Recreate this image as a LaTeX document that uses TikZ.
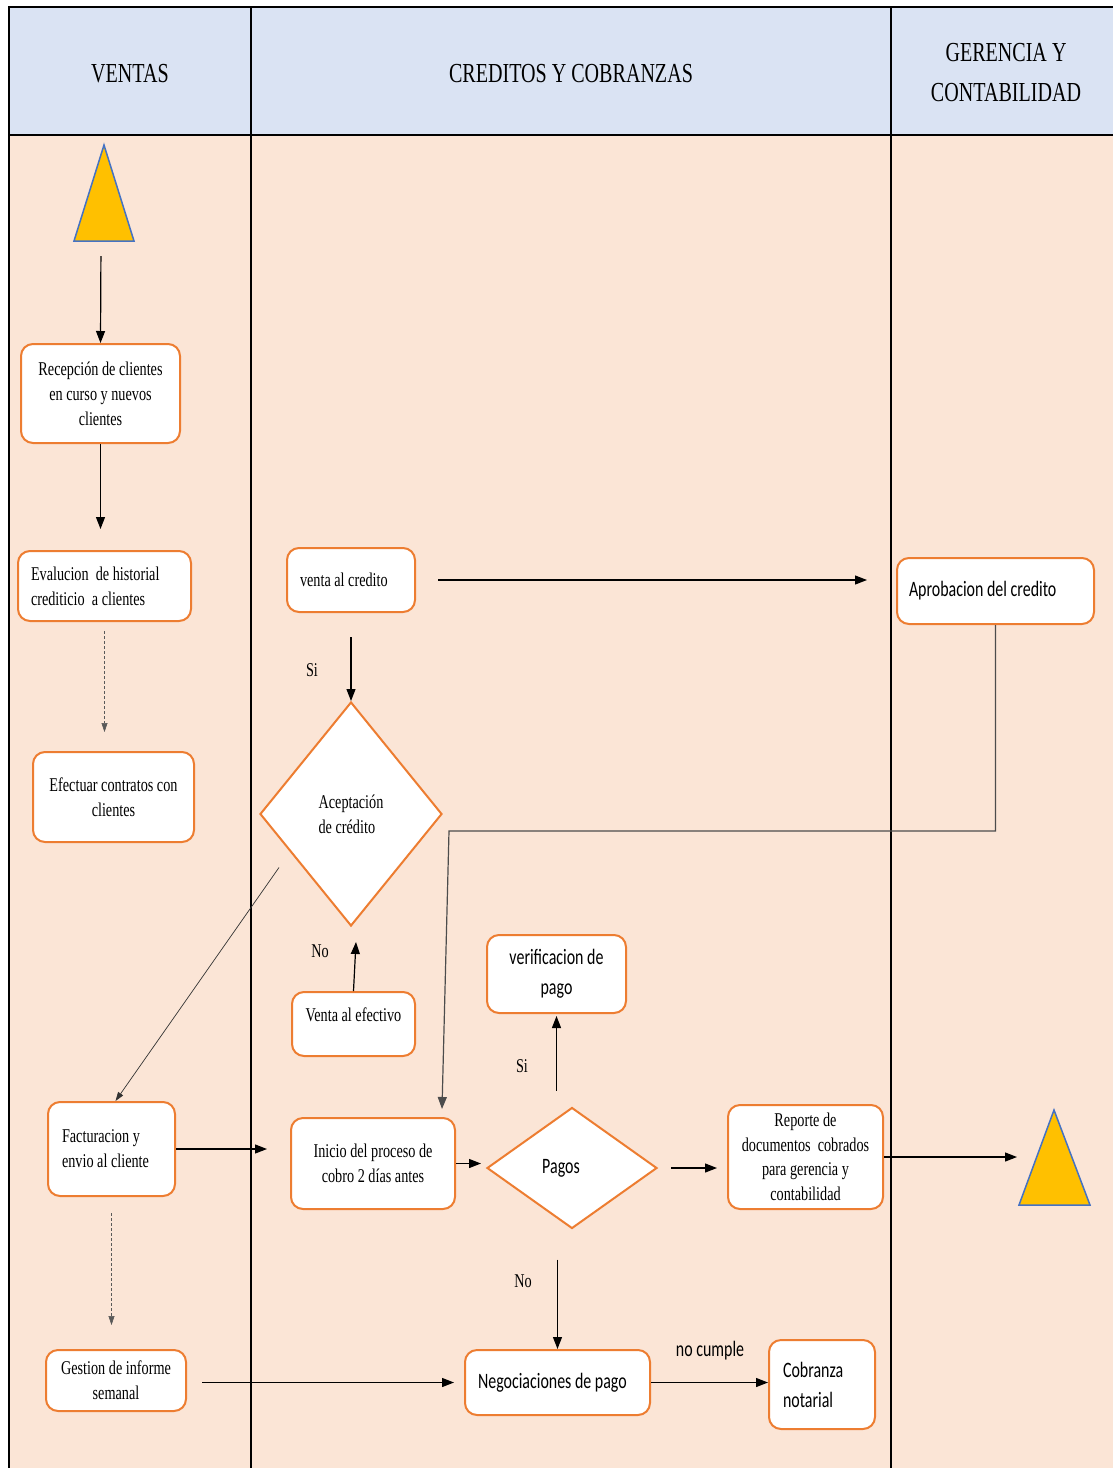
\documentclass[tikz,border=0pt]{standalone}
\usepackage{fontspec}
\newfontfamily\tnr[FakeStretch=0.73]{Liberation Serif}
\newfontfamily\cbr[FakeStretch=0.725]{Carlito}
\definecolor{headblue}{HTML}{DAE3F3}
\definecolor{lanepeach}{HTML}{FBE5D6}
\definecolor{boxorange}{HTML}{ED7D31}
\definecolor{triyellow}{HTML}{FFC000}
\definecolor{triblue}{HTML}{4472C4}
\tikzset{arr/.style = {-{Triangle[length=12pt,width=9pt]}, line width=1.2pt}}
\tikzset{dotarr/.style = {-{Triangle[length=9pt,width=6pt]}, densely dashed, line width=0.6pt, black!65}}
\tikzset{thinarr/.style = {-{Triangle[length=9pt,width=6pt]}, line width=0.7pt, black!80}}
\tikzset{box/.style = {draw=boxorange, line width=2pt, fill=white, rounded corners=12pt, inner sep=0, align=center, font=\tnr\fontsize{19.5}{25}\selectfont}}
\tikzset{lbox/.style = {box, align=flush left, inner xsep=13pt}}
\tikzset{dec/.style = {box, diamond, sharp corners}}
\tikzset{lbl/.style = {font=\tnr\fontsize{19.5}{25}\selectfont}}
\tikzset{head/.style = {align=center, font=\tnr\fontsize{27.5}{40}\selectfont}}
\tikzset{tri/.style = {fill=triyellow, draw=triblue, line width=1.5pt}}
\usetikzlibrary{arrows.meta,
                 shapes.geometric}

\begin{document}
\begin{tikzpicture}[x=1pt,y=-1pt]
      \useasboundingbox (0,0) rectangle (1113,1468);
      % lanes
      \fill [headblue] (9,7) rectangle (1113,135);
      \fill [lanepeach] (9,135) rectangle (1113,1468);
      \draw [line width=2.2pt] (1113,7) -- (9,7) -- (9,1468);
      \draw [line width=2.2pt] (9,135) -- (1113,135);
      \draw [line width=2.2pt] (251,7) -- (251,1468);
      \draw [line width=2.2pt] (891,7) -- (891,1468);
      \node [head] (hventas) at (130,74) {VENTAS};
      \node [head] (hcreditos) at (571,74) {CREDITOS Y COBRANZAS};
      \node [head] (hgerencia) at (1006,73) {GERENCIA Y\\CONTABILIDAD};
      % start and end
      \filldraw [tri] (74,241) -- (104,145) -- (134,241) -- cycle;
      \coordinate (s1) at (101,241);
      \filldraw [tri] (1019,1205) -- (1054,1110) -- (1090,1205) -- cycle;
      \coordinate (e1) at (1019,1157);
      % ventas
      \node [box, minimum width=159pt, minimum height=99pt] (recep) at (100.5,393.5) {Recepción de clientes\\en curso y nuevos\\clientes};
      \node [lbox, text width=147pt, minimum height=70pt] (evalu) at (104.5,586) {Evalucion\ \ de historial\\crediticio\ \ a clientes};
      \node [box, minimum width=161pt, minimum height=90pt] (efect) at (113.5,797) {Efectuar contratos con\\clientes};
      \node [lbox, text width=99pt, minimum height=94pt, inner xsep=14pt] (factu) at (111.5,1149) {Facturacion y\\envio al cliente};
      \node [box, minimum width=140pt, minimum height=61pt] (gesti) at (116,1380.5) {Gestion de informe\\semanal};
      % creditos y cobranzas
      \node [lbox, text width=102pt, minimum height=64pt] (vcred) at (351,580) {venta al credito};
      \node [dec, minimum width=182pt, minimum height=224pt, align=left] (acept) at (351,814) {Aceptación\\de crédito};
      \node [box, minimum width=123pt, minimum height=64pt, text depth=18pt] (vefec) at (353.5,1024) {Venta al efectivo};
      \node [box, minimum width=139pt, minimum height=78pt, font=\cbr\fontsize{22}{30}\selectfont] (verif) at (556.5,974) {verificacion de\\pago};
      \node [box, minimum width=164pt, minimum height=91pt] (inicio) at (373,1163.5) {Inicio del proceso de\\cobro 2 días antes};
      \node [dec, minimum width=170pt, minimum height=121pt, font=\cbr\fontsize{22}{30}\selectfont] (pagos) at (572,1168) {Pagos\hspace*{22pt}};
      \node [box, minimum width=155pt, minimum height=104pt, font=\tnr\fontsize{19.5}{24.5}\selectfont] (report) at (805.5,1157) {Reporte de\\documentos\ \ cobrados\\para gerencia y\\contabilidad};
      \node [lbox, text width=159pt, minimum height=65pt, font=\cbr\fontsize{22}{30}\selectfont] (negoc) at (557.5,1382.5) {Negociaciones de pago};
      \node [lbox, text width=78pt, minimum height=89pt, inner xsep=14pt, font=\cbr\fontsize{22}{30}\selectfont] (cobra) at (822,1384.5) {Cobranza\\notarial};
      % gerencia
      \node [lbox, text width=173pt, minimum height=66pt, inner xsep=12pt, font=\cbr\fontsize{22}{30}\selectfont] (aprob) at (995.5,591) {Aprobacion del credito};
      % labels
      \node [lbl] (si1) at (312,670) {Si};
      \node [lbl] (no1) at (320,951) {No};
      \node [lbl] (si2) at (522,1066) {Si};
      \node [lbl] (no2) at (523,1281) {No};
      \node [font=\cbr\fontsize{22}{30}\selectfont] (nocumple) at (710,1351) {no cumple};
      % connectors
      \draw [arr, shorten <=15pt] (s1) -- (recep.north);
      \draw [arr, shorten >=21pt] (recep.south) -- (recep.south |- evalu.north);
      \draw [dotarr, shorten <=9pt, shorten >=19pt] (evalu.south) -- (evalu.south |- efect.north);
      \draw [thinarr] ([xshift=-26pt,yshift=3pt]acept.south west) -- ([xshift=4pt]factu.north);
      \draw [arr, shorten >=23pt] (factu.east) -- (factu.east -| inicio.west);
      \draw [dotarr, shorten <=16pt, shorten >=24pt] (factu.south) -- (factu.south |- gesti.north);
      \draw [arr, shorten <=15pt, shorten >=10pt] (negoc.west -| gesti.east) -- (negoc.west);
      \draw [arr, shorten <=22pt, shorten >=29pt] (vcred.east) -- (vcred.east -| aprob.west);
      \draw [arr, shorten <=24pt] (vcred.south) -- (acept.north);
      \coordinate (bend) at (449,831);
      \draw [arr, black!70] (aprob.south) |- (bend) -- ([xshift=-14pt,yshift=8pt]inicio.north east);
      \draw [arr] (vefec.north) -- ([xshift=5pt,yshift=-15pt]acept.south);
      \draw [arr, shorten >=5pt] (inicio.east) -- (inicio.east -| pagos.west);
      \draw [arr, shorten <=16pt, shorten >=2pt] (verif.south |- pagos.north) -- (verif.south);
      \draw [arr, shorten <=13pt, shorten >=10pt] (pagos.east) -- (pagos.east -| report.west);
      \draw [arr, shorten >=2pt] (report.east) -- (e1);
      \draw [arr, shorten <=30pt] (negoc.north |- pagos.south) -- (negoc.north);
      \draw [arr] (negoc.east) -- (negoc.east -| cobra.west);
\end{tikzpicture}
\end{document}
